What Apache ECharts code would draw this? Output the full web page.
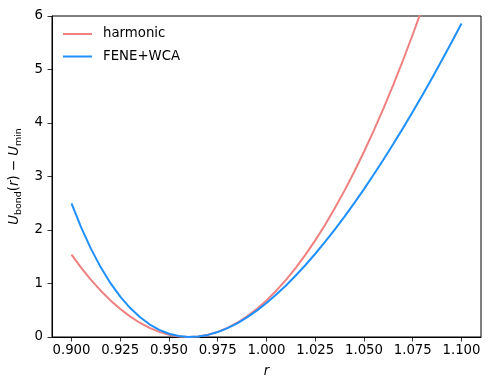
<!DOCTYPE html>
<html>
<head>
<meta charset="utf-8">
<script src="https://cdn.jsdelivr.net/npm/echarts@6/dist/echarts.min.js"></script>
<style>
  html, body { margin: 0; padding: 0; background: #fff; }
  #chart { width: 489px; height: 390px; }
</style>
</head>
<body>
<div id="chart"></div>
<script>
// Bond length r (sampled positions)
const rValues = [0.900,0.905,0.910,0.915,0.920,0.925,0.930,0.935,0.940,0.945,
  0.950,0.955,0.960,0.965,0.970,0.975,0.980,0.985,0.990,0.995,
  1.000,1.005,1.010,1.015,1.020,1.025,1.030,1.035,1.040,1.045,
  1.050,1.055,1.060,1.065,1.070,1.075,1.080,1.085,1.090,1.095,1.100];

// U_bond(r) - U_min, harmonic approximation
const harmonic = [1.539,1.293,1.069,0.866,0.684,0.524,0.385,0.267,0.171,0.096,
  0.043,0.011,0.000,0.011,0.043,0.096,0.171,0.267,0.385,0.524,
  0.684,0.866,1.069,1.293,1.539,1.806,2.095,2.405,2.736,3.089,
  3.463,3.858,4.275,4.713,5.173,5.654,6.156,6.680,7.225,7.791,8.379];

// U_bond(r) - U_min, FENE + WCA
const feneWca = [2.496,2.043,1.647,1.302,1.006,0.755,0.545,0.373,0.237,0.134,
  0.061,0.018,0.000,0.008,0.039,0.092,0.165,0.256,0.366,0.493,
  0.635,0.793,0.964,1.149,1.346,1.556,1.777,2.008,2.251,2.503,
  2.765,3.037,3.317,3.606,3.904,4.210,4.524,4.847,5.176,5.514,5.859];

const seriesNames = ['harmonic', 'FENE+WCA'];
const xTickValues = [0.900,0.925,0.950,0.975,1.000,1.025,1.050,1.075,1.100];
const yTickValues = [0,1,2,3,4,5,6];

const FONT = 'DejaVu Sans';
const FS = 13.3;
const chart = echarts.init(document.getElementById('chart'), null, {renderer: 'canvas'});

function pairs(ys) { return rValues.map((r, i) => [r, ys[i]]); }

chart.setOption({
  animation: false,
  backgroundColor: '#fff',
  textStyle: { fontFamily: FONT },
  grid: {
    left: 52, right: 8, top: 16, bottom: 53,
    show: true, borderColor: '#000', borderWidth: 1,
    containLabel: false, outerBoundsMode: 'none'
  },
  legend: {
    show: true,
    orient: 'vertical',
    left: 63, top: 26,
    padding: 0,
    itemWidth: 29, itemHeight: 2, itemGap: 6.5,
    icon: 'rect',
    selectedMode: false,
    textStyle: { fontFamily: FONT, fontSize: FS, color: '#000', lineHeight: 16, padding: [0,0,0,6] },
    data: seriesNames
  },
  xAxis: {
    type: 'value',
    min: 0.89, max: 1.11,
    name: '{i|r}',
    nameLocation: 'middle',
    nameGap: 27,
    nameTextStyle: {
      rich: { i: { fontFamily: FONT, fontStyle: 'italic', fontSize: FS, color: '#000', lineHeight: 16 } }
    },
    axisLine: { show: true, onZero: false, lineStyle: { color: '#000', width: 1 } },
    axisTick: { show: true, length: 4.5, inside: false, customValues: xTickValues, lineStyle: { color: '#000', width: 0.8 } },
    axisLabel: {
      show: true, margin: 7.5, customValues: xTickValues,
      fontFamily: FONT, fontSize: FS, color: '#000',
      formatter: v => Number(v).toFixed(3)
    },
    splitLine: { show: false }
  },
  yAxis: {
    type: 'value',
    min: 0, max: 6, interval: 1,
    name: '{i|U}{s|bond}{n|(}{i|r}{n|) \u2212 }{i|U}{s|min}',
    nameLocation: 'middle',
    nameRotate: 90,
    nameGap: 22,
    nameTextStyle: {
      rich: {
        i: { fontFamily: FONT, fontStyle: 'italic', fontSize: FS, color: '#000', lineHeight: 18 },
        n: { fontFamily: FONT, fontSize: FS, color: '#000', lineHeight: 18 },
        s: { fontFamily: FONT, fontSize: 9.5, color: '#000', lineHeight: 10, verticalAlign: 'bottom' }
      }
    },
    axisLine: { show: true, onZero: false, lineStyle: { color: '#000', width: 1 } },
    axisTick: { show: true, length: 4.5, inside: false, customValues: yTickValues, lineStyle: { color: '#000', width: 0.8 } },
    axisLabel: {
      show: true, margin: 9, customValues: yTickValues,
      fontFamily: FONT, fontSize: FS, color: '#000',
      formatter: v => String(v)
    },
    splitLine: { show: false }
  },
  series: [
    {
      name: seriesNames[0], type: 'line', data: pairs(harmonic),
      showSymbol: false, symbol: 'none', clip: true, smooth: false,
      color: '#F08080',
      lineStyle: { color: '#F08080', width: 2 },
      z: 2
    },
    {
      name: seriesNames[1], type: 'line', data: pairs(feneWca),
      showSymbol: false, symbol: 'none', clip: true, smooth: false,
      color: '#1E90FF',
      lineStyle: { color: '#1E90FF', width: 2 },
      z: 3
    }
  ]
});
</script>
</body>
</html>
